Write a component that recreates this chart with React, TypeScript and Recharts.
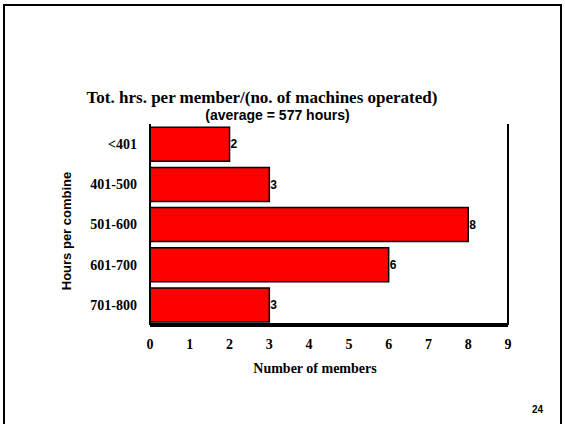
import React from "react";
import { BarChart, Bar, XAxis, YAxis, LabelList, Cell } from "recharts";

const categories = ["<401", "401-500", "501-600", "601-700", "701-800"];
const members = [2, 3, 8, 6, 3];
const xTicks = [0, 1, 2, 3, 4, 5, 6, 7, 8, 9];

const data = categories.map((c, i) => ({ name: c, value: members[i] }));

const serif = "'Liberation Serif', 'Times New Roman', serif";
const sans = "'Liberation Sans', Arial, sans-serif";

// rotated y axis title, sits a little below the plot centre like the original
const YTitle = () => (
  <text
    x={66}
    y={231}
    transform="rotate(-90 66 231)"
    textAnchor="middle"
    dominantBaseline="central"
    fill="#000"
    fontFamily={sans}
    fontWeight="bold"
    fontSize={13}
  >
    Hours per combine
  </text>
);

export default function App() {
  return (
    <div
      style={{
        position: "fixed",
        left: 0,
        top: 0,
        width: 565,
        height: 424,
        background: "#fff",
        overflow: "hidden",
      }}
    >
      {/* slide frame */}
      <div
        style={{
          position: "absolute",
          left: 3,
          top: 4,
          width: 555,
          height: 440,
          border: "2px solid #000",
        }}
      />
      <div
        style={{
          position: "absolute",
          left: 0,
          width: 524,
          top: 88,
          textAlign: "center",
          fontFamily: serif,
          fontWeight: "bold",
          fontSize: 17,
          lineHeight: "20px",
        }}
      >
        Tot. hrs. per member/(no. of machines operated)
      </div>
      <div
        style={{
          position: "absolute",
          left: 0,
          width: 555,
          top: 107,
          textAlign: "center",
          fontFamily: sans,
          fontWeight: "bold",
          fontSize: 14,
          lineHeight: "16px",
        }}
      >
        (average = 577 hours)
      </div>
      <div
        style={{
          position: "absolute",
          left: 532,
          top: 404,
          fontFamily: sans,
          fontWeight: "bold",
          fontSize: 10,
        }}
      >
        24
      </div>
      <div style={{ position: "absolute", left: 0, top: 0 }}>
        <BarChart
          width={565}
          height={424}
          data={data}
          layout="vertical"
          barCategoryGap="8%"
          margin={{ top: 124, right: 56, bottom: 49, left: 70 }}
        >
          <XAxis
            type="number"
            domain={[0, 9]}
            ticks={xTicks}
            interval={0}
            axisLine={{ stroke: "#000", strokeWidth: 4 }}
            tickLine={false}
            tickMargin={8}
            height={50}
            tick={{ fill: "#000", fontFamily: serif, fontWeight: "bold", fontSize: 14 }}
            label={{
              value: "Number of members",
              position: "insideBottom",
              offset: 2,
              dx: -14,
              fill: "#000",
              fontFamily: serif,
              fontWeight: "bold",
              fontSize: 14,
            }}
          />
          <XAxis
            xAxisId="top"
            orientation="top"
            type="number"
            domain={[0, 9]}
            tick={false}
            tickLine={false}
            height={0}
            axisLine={{ stroke: "#000", strokeWidth: 2 }}
          />
          <YAxis
            type="category"
            dataKey="name"
            width={80}
            axisLine={{ stroke: "#000", strokeWidth: 2 }}
            tickLine={false}
            tickMargin={7}
            tick={{ fill: "#000", fontFamily: serif, fontWeight: "bold", fontSize: 14 }}
            label={{ content: () => <YTitle /> }}
          />
          <YAxis
            yAxisId="right"
            orientation="right"
            type="category"
            dataKey="name"
            width={1}
            tick={false}
            tickLine={false}
            axisLine={{ stroke: "#000", strokeWidth: 2 }}
          />
          <Bar
            dataKey="value"
            fill="#ff0000"
            stroke="#000"
            strokeWidth={1.5}
            isAnimationActive={false}
          >
            {data.map((d) => (
              <Cell key={d.name} fill="#ff0000" />
            ))}
            <LabelList
              dataKey="value"
              position="right"
              offset={1}
              fill="#000"
              fontFamily={sans}
              fontWeight="bold"
              fontSize={12}
            />
          </Bar>
        </BarChart>
      </div>
    </div>
  );
}
